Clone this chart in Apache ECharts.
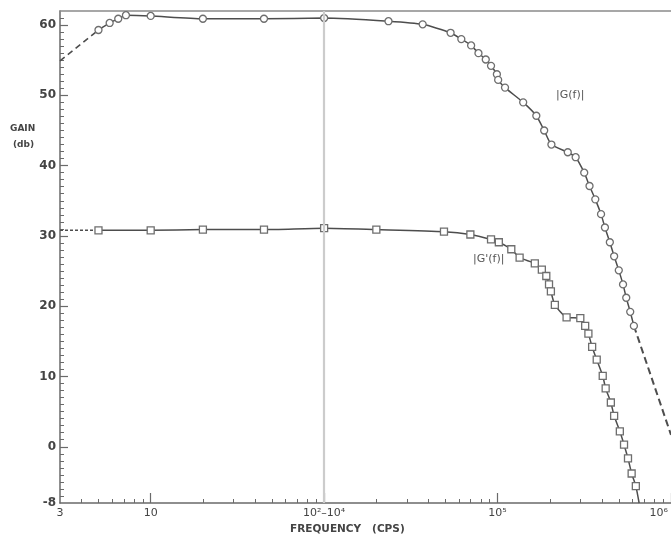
<!DOCTYPE html>
<html>
<head>
<meta charset="utf-8">
<script src="https://cdn.jsdelivr.net/npm/echarts@6/dist/echarts.min.js"></script>
<style>
html,body{margin:0;padding:0;background:#fff;}
#chart{width:671px;height:538px;}
</style>
</head>
<body>
<div id="chart"></div>
<script>
// ---- data (frequency in cps, gain in db) ----
const gFreq = [5, 5.8, 6.5, 7.2, 10, 20, 45, 1e4, 23500, 37000, 53600, 61800, 70400, 77600, 85500, 91700, 99100, 100800, 110400, 140500, 167300, 185700, 204400, 254000, 282000, 316000, 339000, 366000, 395000, 416000, 444000, 470000, 500000, 529000, 552000, 582000, 611000];
const gGain = [59.3, 60.3, 60.9, 61.4, 61.3, 60.9, 60.9, 61.0, 60.55, 60.1, 58.9, 58.0, 57.1, 56.0, 55.1, 54.2, 53.0, 52.2, 51.1, 49.0, 47.1, 45.0, 43.0, 41.9, 41.2, 39.0, 37.1, 35.2, 33.1, 31.2, 29.1, 27.1, 25.1, 23.1, 21.2, 19.2, 17.2];
const gLeadFreq = [3, 5];
const gLeadGain = [54.9, 59.3];
const gTailFreq = [611000, 1e6];
const gTailGain = [17.2, 1.7];

const gpFreq = [5, 10, 20, 45, 1e4, 2e4, 49100, 69700, 91700, 101700, 120000, 134000, 164000, 180000, 191000, 198000, 203000, 214000, 250000, 300000, 320000, 334000, 351000, 373000, 404000, 420000, 450000, 470000, 507000, 536000, 565000, 593000, 627000];
const gpGain = [30.8, 30.8, 30.9, 30.9, 31.1, 30.9, 30.6, 30.2, 29.5, 29.1, 28.1, 26.9, 26.1, 25.2, 24.3, 23.1, 22.1, 20.2, 18.4, 18.3, 17.2, 16.1, 14.2, 12.4, 10.1, 8.3, 6.3, 4.4, 2.2, 0.3, -1.65, -3.8, -5.6];
const gpLeadFreq = [3, 5];
const gpLeadGain = [30.8, 30.8];
const gpEndFreq = [655000];
const gpEndGain = [-8];

const breakFreq = 1e4;
const xLabelFreqs = [3, 10, 100, 1e5, 1e6];
const xLabelTexts = ['3', '10', '10²–10⁴', '10⁵', '10⁶'];
const xMajorFreqs = [10, 100, 1e5, 1e6];
const yLabelValues = [-8, 0, 10, 20, 30, 40, 50, 60];
const yMajorValues = [0, 10, 20, 30, 40, 50, 60];

// ---- broken log scale: 10^2 .. 10^4 removed ----
function toAxis(f) { return f <= 1000 ? Math.log10(f) : Math.log10(f) - 2; }
const X_MIN = toAxis(3), X_MAX = toAxis(1e6);

const xMinorFreqs = [];
[1, 10, 1e4, 1e5].forEach(function (d) {
  for (let k = 2; k <= 9; k++) { if (d * k > 3) xMinorFreqs.push(d * k); }
});
const yMinorValues = [];
for (let v = -7; v <= 61; v++) { if (v % 10 !== 0) yMinorValues.push(v); }

function pts(fs, gs) { return fs.map(function (f, i) { return [toAxis(f), gs[i]]; }); }

const ink = '#4d4d4d';
const axisCol = '#6a6a6a';
const font = 'DejaVu Sans';

const chart = echarts.init(document.getElementById('chart'), null, {renderer: 'canvas'});

const gpMain = pts(gpFreq, gpGain).concat(pts(gpEndFreq, gpEndGain).map(function (p) { return {value: p, symbol: 'none'}; }));

chart.setOption({
  backgroundColor: '#fff',
  animation: false,
  grid: {left: 60, right: -6, top: 11, bottom: 35, containLabel: false},
  xAxis: [
    {
      type: 'value', position: 'bottom', min: X_MIN, max: X_MAX,
      axisLine: {show: true, onZero: false, lineStyle: {color: axisCol, width: 1.5}},
      axisTick: {show: true, inside: true, length: 10, customValues: xMajorFreqs.map(toAxis), lineStyle: {color: axisCol, width: 1.2}},
      axisLabel: {
        show: true, margin: 5, customValues: xLabelFreqs.map(toAxis),
        color: '#444', fontFamily: font, fontSize: 11,
        alignMaxLabel: 'right',
        formatter: function (v) {
          for (let i = 0; i < xLabelFreqs.length; i++) {
            if (Math.abs(toAxis(xLabelFreqs[i]) - v) < 1e-6) {
              if (i === xLabelFreqs.length - 1) return '{e|' + xLabelTexts[i] + '}';
              return xLabelTexts[i];
            }
          }
          return '';
        },
        rich: {e: {fontSize: 11, fontFamily: font, color: '#444', padding: [0, 3, 0, 0]}}
      },
      splitLine: {show: false}
    },
    {
      type: 'value', position: 'bottom', min: X_MIN, max: X_MAX,
      axisLine: {show: false, onZero: false},
      axisTick: {show: true, inside: true, length: 4, customValues: xMinorFreqs.map(toAxis), lineStyle: {color: axisCol, width: 1}},
      axisLabel: {show: false}, splitLine: {show: false}
    },
    {
      type: 'value', position: 'top', min: X_MIN, max: X_MAX,
      axisLine: {show: true, onZero: false, lineStyle: {color: '#8a8a8a', width: 1.5}},
      axisTick: {show: false}, axisLabel: {show: false}, splitLine: {show: false}
    }
  ],
  yAxis: [
    {
      type: 'value', position: 'left', min: -8, max: 62,
      axisLine: {show: true, onZero: false, lineStyle: {color: axisCol, width: 1.5}},
      axisTick: {show: true, inside: true, length: 8, customValues: yMajorValues, lineStyle: {color: axisCol, width: 1.2}},
      axisLabel: {show: true, margin: 4, customValues: yLabelValues, color: '#444', fontFamily: font, fontWeight: 'bold', fontSize: 12},
      splitLine: {show: false}
    },
    {
      type: 'value', position: 'left', min: -8, max: 62,
      axisLine: {show: false, onZero: false},
      axisTick: {show: true, inside: true, length: 4, customValues: yMinorValues, lineStyle: {color: axisCol, width: 1}},
      axisLabel: {show: false}, splitLine: {show: false}
    }
  ],
  series: [
    {
      name: 'break', type: 'line', data: [], z: 1,
      markLine: {
        silent: true, symbol: 'none', label: {show: false},
        lineStyle: {color: '#cccccc', width: 2.2, type: 'solid'},
        data: [{xAxis: toAxis(breakFreq)}]
      }
    },
    {
      name: 'G lead', type: 'line', data: pts(gLeadFreq, gLeadGain), symbol: 'none', z: 2,
      lineStyle: {color: ink, width: 1.6, type: [6, 4]}
    },
    {
      name: 'G tail', type: 'line', data: pts(gTailFreq, gTailGain), symbol: 'none', z: 2,
      lineStyle: {color: ink, width: 2, type: [7, 4]}
    },
    {
      name: "G' lead", type: 'line', data: pts(gpLeadFreq, gpLeadGain), symbol: 'none', z: 2,
      lineStyle: {color: ink, width: 1.4, type: [3, 2]}
    },
    {
      name: '|G(f)|', type: 'line', data: pts(gFreq, gGain), z: 3,
      smooth: 0.2,
      symbol: 'circle', symbolSize: 7,
      lineStyle: {color: ink, width: 1.5},
      itemStyle: {color: '#fff', borderColor: '#6e6e6e', borderWidth: 1.3}
    },
    {
      name: "|G'(f)|", type: 'line', data: gpMain, z: 3,
      smooth: 0.2,
      symbol: 'rect', symbolSize: 7,
      lineStyle: {color: ink, width: 1.5},
      itemStyle: {color: '#fff', borderColor: '#6e6e6e', borderWidth: 1.3}
    }
  ],
  graphic: [
    {type: 'text', left: 10, top: 124, style: {text: 'GAIN', fontFamily: font, fontWeight: 'bold', fontSize: 9, fill: '#444'}},
    {type: 'text', left: 13, top: 140, style: {text: '(db)', fontFamily: font, fontWeight: 'bold', fontSize: 9, fill: '#444'}},
    {type: 'text', left: 290, top: 524, style: {text: 'FREQUENCY   (CPS)', fontFamily: font, fontWeight: 'bold', fontSize: 10.5, fill: '#444'}},
    {type: 'text', left: 556, top: 90, style: {text: '|G(f)|', fontFamily: font, fontSize: 11, fill: '#555'}},
    {type: 'text', left: 473, top: 254, style: {text: "|G'(f)|", fontFamily: font, fontSize: 11, fill: '#555'}}
  ]
});
</script>
</body>
</html>
